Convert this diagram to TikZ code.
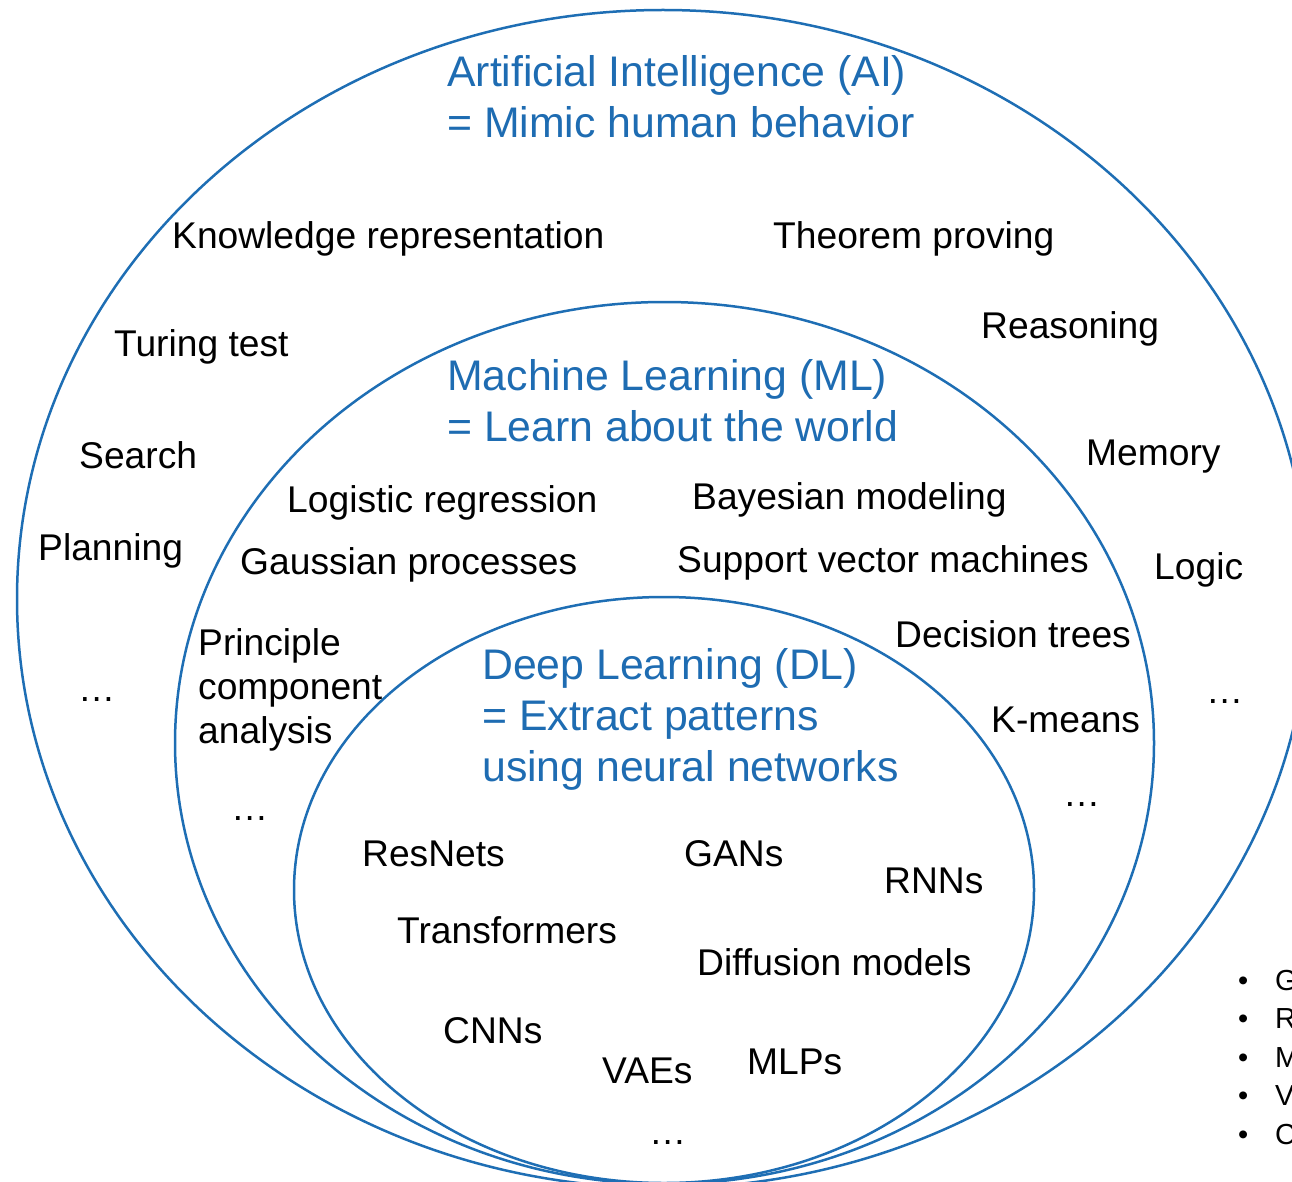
\documentclass[tikz,border=0pt]{standalone}
\usepackage{fontspec}
\setmainfont{Liberation Sans}
\definecolor{ringblue}{RGB}{30,110,180}
\definecolor{titleblue}{RGB}{30,108,178}
\begin{document}
\begin{tikzpicture}[x=1pt,y=-1pt,
  ring/.style={draw=ringblue,line width=2.5pt},
  item/.style={anchor=base west,inner sep=0pt,font=\fontsize{37.2}{44}\selectfont},
  title/.style={anchor=base west,inner sep=0pt,text=titleblue,font=\fontsize{42.8}{51}\selectfont},
  bullet/.style={anchor=base west,inner sep=0pt,font=\fontsize{29}{34}\selectfont}]
\useasboundingbox (0,0) rectangle (1292,1182);
\clip (0,0) rectangle (1292,1182);

% nested fields as ellipses
\draw[ring] (663,599) ellipse [x radius=646,y radius=589];
\draw[ring] (664.5,743) ellipse [x radius=489.5,y radius=441];
\draw[ring] (664,890) ellipse [x radius=370,y radius=293];

% Artificial Intelligence
\node[title] (ai1) at (447,87) {Artificial Intelligence (AI)};
\node[title] (ai2) at (447,138) {= Mimic human behavior};
\node[item] (kr) at (172,249) {Knowledge representation};
\node[item] (tp) at (773,249) {Theorem proving};
\node[item] (tt) at (114,356) {Turing test};
\node[item] (rs) at (981,338) {Reasoning};
\node[item] (se) at (79,468) {Search};
\node[item] (me) at (1086,465) {Memory};
\node[item] (pl) at (38,560) {Planning};
\node[item] (lo) at (1154,579) {Logic};
\node[item] (aidl) at (78,701) {…};
\node[item] (aidr) at (1206,703) {…};

% Machine Learning
\node[title] (ml1) at (447,390) {Machine Learning (ML)};
\node[title] (ml2) at (447,441) {= Learn about the world};
\node[item] (lr) at (287,512) {Logistic regression};
\node[item] (bm) at (692,509) {Bayesian modeling};
\node[item] (gp) at (240,574) {Gaussian processes};
\node[item] (sv) at (677,572) {Support vector machines};
\node[item] (pc1) at (198,655) {Principle};
\node[item] (pc2) at (198,699) {component};
\node[item] (pc3) at (198,743) {analysis};
\node[item] (dt) at (895,647) {Decision trees};
\node[item] (km) at (991,732) {K-means};
\node[item] (mldl) at (231,820) {…};
\node[item] (mldr) at (1063,806) {…};

% Deep Learning
\node[title] (dl1) at (482,679) {Deep Learning (DL)};
\node[title] (dl2) at (482,730) {= Extract patterns};
\node[title] (dl3) at (482,781) {using neural networks};
\node[item] (rn) at (362,866) {ResNets};
\node[item] (ga) at (684,866) {GANs};
\node[item] (rr) at (884,893) {RNNs};
\node[item] (tf) at (397,943) {Transformers};
\node[item] (df) at (697,975) {Diffusion models};
\node[item] (cn) at (443,1043) {CNNs};
\node[item] (va) at (602,1083) {VAEs};
\node[item] (ml) at (747,1074) {MLPs};
\node[item] (dld) at (649,1144) {…};

% list at the lower right edge
\foreach \n/\t/\yy in {b1/G/990,b2/R/1028.5,b3/M/1067,b4/V/1105.5,b5/C/1144}{
  \node[bullet] (\n) at (1238,\yy) {•};
  \node[bullet] (\n t) at (1275,\yy) {\t};
}
\end{tikzpicture}
\end{document}
